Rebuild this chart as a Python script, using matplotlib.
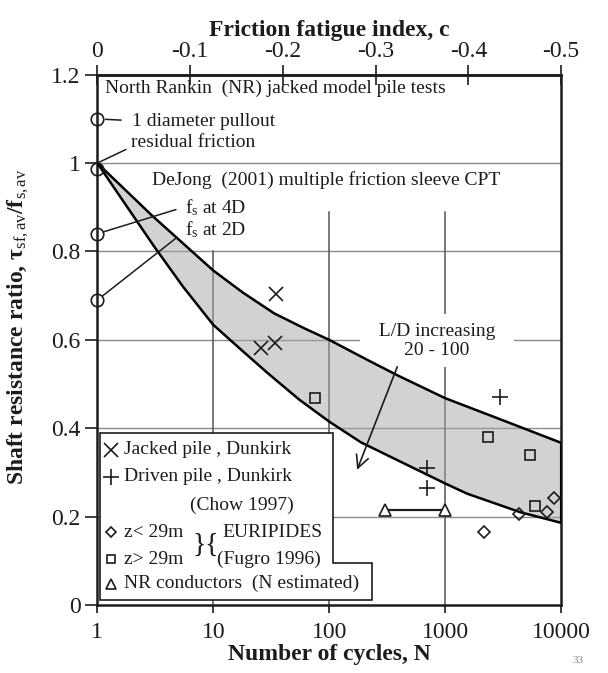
import numpy as np
import matplotlib.pyplot as plt
from matplotlib.patches import Polygon
from matplotlib.ticker import FixedLocator, FixedFormatter, NullLocator

plt.rcParams['font.family'] = 'Liberation Serif'
plt.rcParams['mathtext.fontset'] = 'custom'
plt.rcParams['mathtext.rm'] = 'Liberation Serif'
plt.rcParams['mathtext.it'] = 'Liberation Serif:italic'
plt.rcParams['mathtext.bf'] = 'Liberation Serif:bold'

# DeJong (2001) envelope, upper and lower bounds
upper_n = [1, 3, 10, 18, 33.5, 60, 100, 212, 386, 1000, 3000, 10000]
upper_r = [1.0, 0.88, 0.757, 0.707, 0.66, 0.627, 0.600, 0.555, 0.52, 0.468, 0.42, 0.367]
lower_n = [1, 3.08, 5.5, 10, 17, 29.4, 55, 100, 188, 1000, 1545, 4440, 10000]
lower_r = [1.0, 0.812, 0.72, 0.634, 0.58, 0.525, 0.465, 0.415, 0.368, 0.275, 0.252, 0.21, 0.186]

# North Rankin model pile tests (all at N = 1)
nr_n = [1, 1, 1, 1]
nr_r = [1.1, 0.986, 0.84, 0.69]

# field data
jacked_n = [25.7, 34, 34.6]
jacked_r = [0.582, 0.594, 0.703]
driven_n = [700, 700, 2960]
driven_r = [0.265, 0.31, 0.47]
shallow_n = [2150, 4300, 7600, 8700]
shallow_r = [0.165, 0.205, 0.21, 0.243]
deep_n = [76, 2340, 5400, 5900]
deep_r = [0.469, 0.38, 0.34, 0.225]
cond_n = [300, 1000]
cond_r = [0.215, 0.215]

x_ticks = [1, 10, 100, 1000, 10000]
x_labels = ['1', '10', '100', '1000', '10000']
y_ticks = [0, 0.2, 0.4, 0.6, 0.8, 1.0, 1.2]
y_labels = ['0', '0.2', '0.4', '0.6', '0.8', '1', '1.2']
c_ticks = [0, -0.1, -0.2, -0.3, -0.4, -0.5]
c_labels = ['0', '-0.1', '-0.2', '-0.3', '-0.4', '-0.5']

ink = '#1c1c1c'

fig = plt.figure(figsize=(6.08, 6.73), dpi=100)
ax = fig.add_axes([0.16, 0.101, 0.763, 0.788])
ax.set_xscale('log')
ax.set_xlim(1, 10000)
ax.set_ylim(0, 1.2)

# grid (partial vertical lines, kept clear of the top notes)
for y in [0.2, 0.4, 0.6, 0.8, 1.0]:
    ax.axhline(y, color='#8c8c8c', lw=1.0, zorder=2)
ax.axvline(10, ymax=0.8 / 1.2, color='#555555', lw=1.1, zorder=2)
ax.axvline(100, ymax=0.89 / 1.2, color='#555555', lw=1.1, zorder=2)
ax.axvline(1000, ymax=0.89 / 1.2, color='#555555', lw=1.1, zorder=2)

# shaded band (semi-transparent so the grid shows through)
band_n = upper_n + lower_n[::-1]
band_r = upper_r + lower_r[::-1]
ax.fill(band_n, band_r, color='#a6a6a6', alpha=0.5, lw=0, zorder=2.7)
ax.plot(band_n, band_r, color='k', lw=1.8, zorder=3)

# data points
ax.plot(nr_n, nr_r, 'o', ms=9, mfc='none', mec=ink, mew=1.2, clip_on=False, zorder=6)
ax.plot(jacked_n, jacked_r, 'x', ms=10, mec=ink, mew=1.2, zorder=4)
ax.plot(driven_n, driven_r, '+', ms=12, mec=ink, mew=1.2, zorder=4)
ax.plot(shallow_n, shallow_r, 'D', ms=6, mfc='none', mec=ink, mew=1.2, zorder=4)
ax.plot(deep_n, deep_r, 's', ms=6.5, mfc='none', mec=ink, mew=1.2, zorder=4)
ax.plot(cond_n, cond_r, '-^', color=ink, lw=1.6, ms=8, mfc='white', mec=ink, mew=1.2, zorder=4)

# notes
tkw = dict(fontsize=14, color=ink, va='center', zorder=7)
ax.text(1.17, 1.17, 'North Rankin  (NR) jacked model pile tests', **tkw)
ax.annotate('1 diameter pullout', xy=(1, 1.1), xytext=(2.0, 1.094),
            arrowprops=dict(arrowstyle='-', color=ink, lw=1.1, shrinkA=6, shrinkB=6, relpos=(0, 0.55)), **tkw)
ax.annotate('residual friction', xy=(1, 1.0), xytext=(1.96, 1.046),
            arrowprops=dict(arrowstyle='-', color=ink, lw=1.1, shrinkA=2, shrinkB=0, relpos=(0, 0.25)), **tkw)
ax.text(2.98, 0.962, 'DeJong  (2001) multiple friction sleeve CPT', **tkw)
ax.annotate(r'f$_\mathrm{s}$ at 4D', xy=(1, 0.84), xytext=(5.74, 0.899),
            arrowprops=dict(arrowstyle='-', color=ink, lw=1.1, shrinkA=5, shrinkB=5, relpos=(0, 0.55)), **tkw)
ax.annotate(r'f$_\mathrm{s}$ at 2D', xy=(1, 0.69), xytext=(5.74, 0.849),
            arrowprops=dict(arrowstyle='-', color=ink, lw=1.1, shrinkA=5, shrinkB=5, relpos=(0, 0.45)), **tkw)

ax.text(851, 0.598, '  L/D increasing  \n20 - 100', fontsize=14, color=ink, ha='center', va='center',
        linespacing=1.15, zorder=2.5, bbox=dict(boxstyle='square,pad=0.45', fc='white', ec='none'))
ax.annotate('', xy=(174, 0.306), xytext=(386, 0.539),
            arrowprops=dict(arrowstyle='->,head_length=0.9,head_width=0.45', color=ink, lw=1.2,
                            shrinkA=0, shrinkB=0), zorder=6)

# legend panel
lx = ax.get_yaxis_transform()
ax.add_patch(Polygon([(0.0065, 0.324), (0.5086, 0.324), (0.5086, 0.079), (0.5927, 0.079),
                      (0.5927, 0.0094), (0.0065, 0.0094)], closed=True, transform=ax.transAxes,
                     fc='white', ec=ink, lw=1.2, zorder=8))
lkw = dict(fontsize=14, color=ink, va='center', transform=lx, zorder=9)
mkw = dict(transform=lx, clip_on=False, zorder=9, mec=ink, mew=1.2, mfc='none')
ax.plot([0.030], [0.351], 'x', ms=10, **mkw)
ax.text(0.058, 0.351, 'Jacked pile , Dunkirk', **lkw)
ax.plot([0.030], [0.290], '+', ms=12, **mkw)
ax.text(0.058, 0.290, 'Driven pile , Dunkirk', **lkw)
ax.text(0.200, 0.226, '(Chow 1997)', **lkw)
ax.plot([0.030], [0.165], 'D', ms=5, **mkw)
ax.text(0.058, 0.165, 'z< 29m', **lkw)
ax.plot([0.030], [0.104], 's', ms=5.5, **mkw)
ax.text(0.058, 0.104, 'z> 29m', **lkw)
ax.text(0.234, 0.135, '}{', fontsize=20, color=ink, ha='center', va='center', transform=lx, zorder=9)
ax.text(0.269, 0.165, 'EURIPIDES', **lkw)
ax.text(0.259, 0.104, '(Fugro 1996)', **lkw)
ax.plot([0.030], [0.048], '^', ms=7, **mkw)
ax.text(0.058, 0.048, 'NR conductors  (N estimated)', **lkw)

# axes, ticks and labels
for s in ax.spines.values():
    s.set_linewidth(1.8)
    s.set_color(ink)
ax.xaxis.set_major_locator(FixedLocator(x_ticks))
ax.xaxis.set_major_formatter(FixedFormatter(x_labels))
ax.xaxis.set_minor_locator(NullLocator())
ax.set_yticks(y_ticks)
ax.set_yticklabels(y_labels)
ax.tick_params(axis='both', direction='out', length=6, width=1.2, labelsize=17, colors=ink)
ax.tick_params(axis='y', length=9, pad=3)
ax.tick_params(axis='x', pad=6)
ax.set_xlabel('Number of cycles, N', fontsize=17, fontweight='bold', color=ink, labelpad=1)
ax.set_ylabel('Shaft resistance ratio, τ$_\\mathrm{sf,av}$/f$_\\mathrm{s,av}$', fontsize=17,
              fontweight='bold', color=ink)
ax.yaxis.set_label_coords(-0.142, 0.525)

# friction fatigue index c = -log10(N) / 8 on a linear top axis
top = ax.twiny()
top.set_xlim(0, -0.5)
top.xaxis.set_major_locator(FixedLocator(c_ticks))
top.xaxis.set_major_formatter(FixedFormatter(c_labels))
top.xaxis.set_minor_locator(NullLocator())
top.tick_params(direction='inout', length=14, width=1.2, labelsize=17, colors=ink, pad=2)
for name, s in top.spines.items():
    s.set_visible(name == 'top')
    s.set_linewidth(1.8)
    s.set_color(ink)
top.set_xlabel('Friction fatigue index, c', fontsize=17, fontweight='bold', color=ink, labelpad=4)

fig.text(0.951, 0.019, '33', fontsize=8, color='#8a8a8a', ha='center', va='center')

fig.savefig('out.png', dpi=100)
